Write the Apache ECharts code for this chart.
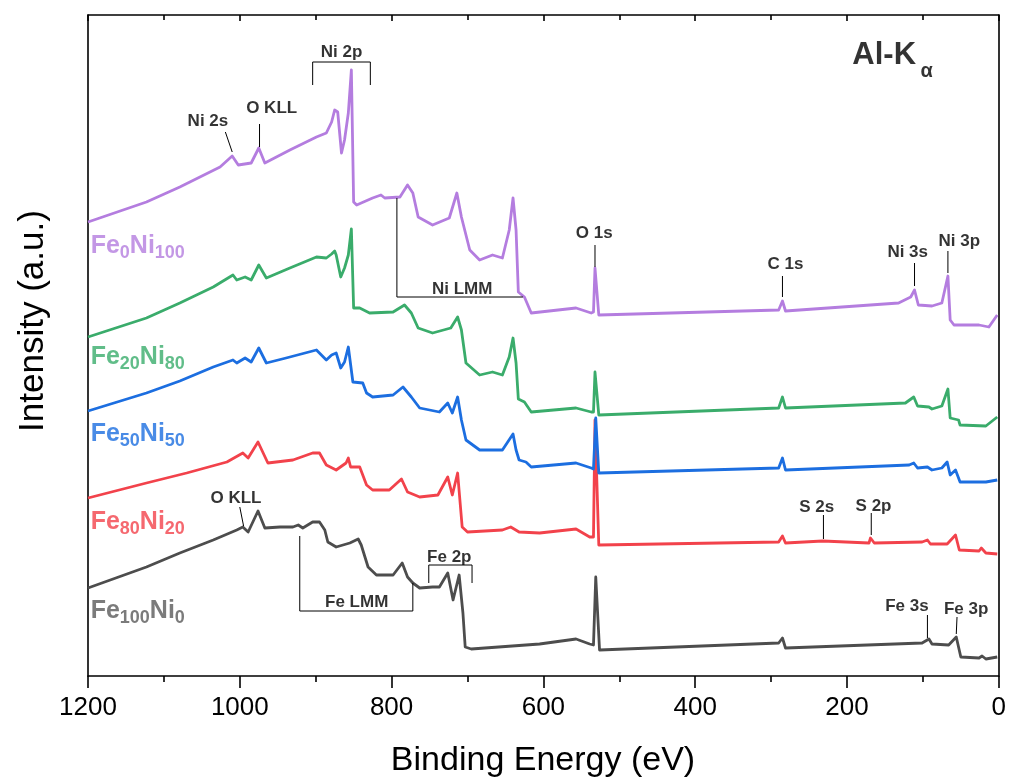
<!DOCTYPE html>
<html>
<head>
<meta charset="utf-8">
<script src="https://cdn.jsdelivr.net/npm/echarts@6/dist/echarts.min.js"></script>
<style>
html,body{margin:0;padding:0;background:#fff;}
#chart{width:1009px;height:783px;}
</style>
</head>
<body>
<div id="chart"></div>
<script>
// ---- DATA: [binding energy (eV), intensity (a.u., offset)] ----
const fe0ni100 = [
[1200,454],[1123,474],[1079,489],[1026,509],[1010,520],[1002,511],[985,513],[975,528],[967,513],[934,526],
[899,539],[886,543],[879,554],[875,566],[871,564],[866,523],[862,536],[857,563],[853,606],[850,474],
[846,471],[825,478],[814,481],[809,478],[789,479],[779,491],[772,483],[765,459],[746,451],[724,458],
[714,483],[708,459],[697,426],[684,416],[667,421],[654,418],[645,446],[640,478],[636,446],[633,384],
[625,379],[616,363],[557,368],[537,363],[534,364],[532,408],[527,361],[290,366],[285,375],[281,365],
[132,373],[116,379],[111,386],[106,371],[88,370],[75,373],[67,400],[64,356],[59,351],[26,351],[13,349],[2,361]
];
const fe20ni80 = [
[1200,339],[1123,358],[1079,373],[1035,389],[1009,401],[1004,396],[993,399],[985,396],[975,411],[965,398],
[934,408],[899,419],[886,418],[879,422],[875,425],[873,421],[867,399],[862,408],[857,421],[853,447],
[850,368],[842,368],[829,363],[798,364],[783,371],[774,363],[765,348],[746,343],[722,348],[713,359],
[708,346],[702,313],[684,301],[667,304],[654,301],[645,319],[640,338],[636,313],[633,277],[625,274],
[616,264],[557,268],[537,264],[534,264],[532,304],[527,261],[290,268],[285,279],[281,268],[123,273],
[112,279],[107,270],[92,269],[88,267],[75,270],[67,287],[64,258],[53,256],[51,251],[17,250],[2,259]
];
const fe50ni50 = [
[1200,265],[1123,283],[1079,295],[1035,309],[1009,316],[1004,313],[993,318],[985,314],[975,328],[965,313],
[939,318],[899,326],[886,316],[879,321],[873,323],[867,308],[862,314],[857,329],[851,294],[838,293],
[833,283],[825,279],[798,281],[785,289],[774,279],[763,268],[737,264],[726,273],[720,263],[713,279],
[708,256],[702,236],[684,226],[654,226],[640,242],[636,226],[632,216],[623,214],[616,209],[557,213],
[537,208],[534,207],[531,258],[527,203],[290,208],[285,218],[281,206],[118,211],[112,213],[107,208],
[94,209],[88,206],[75,208],[68,214],[64,201],[57,206],[51,194],[17,194],[2,196]
];
const fe80ni20 = [
[1200,178],[1123,193],[1070,203],[1017,214],[996,223],[989,218],[976,234],[963,213],[930,216],[904,223],
[895,223],[886,211],[873,206],[860,213],[857,218],[854,209],[842,209],[833,191],[825,186],[803,186],
[787,197],[779,184],[763,179],[739,181],[726,199],[720,181],[713,203],[707,149],[700,144],[654,146],
[643,149],[632,144],[605,143],[557,147],[539,139],[534,139],[532,256],[527,131],[290,134],[285,140],
[281,133],[232,135],[171,133],[169,138],[164,133],[101,134],[94,136],[90,132],[68,132],[57,141],
[52,126],[26,125],[23,128],[17,123],[2,122]
];
const fe100ni0 = [
[1200,88],[1123,109],[1079,123],[1035,136],[1004,146],[996,149],[989,144],[976,165],[967,148],[947,149],
[930,149],[923,151],[917,148],[904,154],[895,154],[888,146],[884,134],[873,129],[855,133],[844,137],
[840,131],[831,109],[820,101],[798,101],[786,113],[779,99],[772,93],[763,88],[746,89],[737,89],
[726,103],[719,76],[711,101],[706,63],[703,29],[695,27],[605,32],[557,37],[539,32],[534,31],
[531,99],[526,26],[290,33],[285,38],[281,28],[101,33],[92,37],[88,32],[66,31],[56,39],
[50,19],[26,18],[22,20],[17,17],[2,19]
];
const seriesNames = ['Fe100Ni0','Fe80Ni20','Fe50Ni50','Fe20Ni80','Fe0Ni100'];
const seriesLabelParts = [['100','0'],['80','20'],['50','50'],['20','80'],['0','100']];
const xTicks = [0,200,400,600,800,1000,1200];

// annotation text [label, eV, intensity]
const peakLabels = [
['Ni 2p',866,624],['Ni 2s',1042,555],['O KLL',958,568],['Ni LMM',707,387],
['O 1s',533,443],['C 1s',281,412],['Ni 3s',120,424],['Ni 3p',52,435],
['O KLL',1005,178],['Fe LMM',846,74],['Fe 2p',724,119],['S 2s',240,169],
['S 2p',165,170],['Fe 3s',121,70],['Fe 3p',43,67]
];
// annotation leader lines / brackets, in [eV, intensity]
const peakLines = [
[[904,591],[904,614],[828,614],[828,591]],
[[1019,544],[1010,524]],
[[974,552],[974,529]],
[[793,478],[793,379],[627,379]],
[[532,431],[532,409]],
[[285,400],[285,379]],
[[111,413],[111,390]],
[[67,425],[67,403]],
[[1000,169],[995,150]],
[[921,140],[921,65],[772,65],[772,93]],
[[751,93],[751,111],[694,111],[694,93]],
[[231,161],[231,137]],
[[168,163],[168,141]],
[[94,61],[94,38]],
[[55,59],[56,42]]
];
const nameLabelPos = [[1196.5,63],[1196.5,152],[1196.5,240],[1196.5,317],[1196.5,428]];

// ---- STYLE ----
const FONT = 'Liberation Sans, Arial, Helvetica, sans-serif';
const colors = ['#4d4d4d','#f2424b','#1c6ee0','#3aac6b','#b47ddf'];
const nameColors = ['#5a5a5a','#f2424b','#1c6ee0','#3aac6b','#b47ddf'];
const allData = [fe100ni0, fe80ni20, fe50ni50, fe20ni80, fe0ni100];

const series = [];
allData.forEach((d, i) => {
  series.push({
    type: 'line', name: seriesNames[i], data: d, showSymbol: false, symbol: 'none',
    smooth: false, silent: true, z: 3 + i,
    lineStyle: { color: colors[i], width: 2.8, join: 'round' }
  });
});
peakLines.forEach((p) => {
  series.push({
    type: 'line', data: p, showSymbol: false, symbol: 'none', silent: true, z: 10,
    lineStyle: { color: '#000', width: 1 }
  });
});
series.push({
  type: 'scatter', symbolSize: 0, silent: true, z: 12,
  data: peakLabels.map(l => ({ name: l[0], value: [l[1], l[2]] })),
  label: {
    show: true, position: 'inside', formatter: '{b}', color: '#000',
    fontFamily: FONT, fontWeight: 'bold', fontSize: 17, align: 'center', verticalAlign: 'middle'
  }
});
series.push({
  type: 'scatter', symbolSize: 0, silent: true, z: 12,
  data: nameLabelPos.map((p, i) => ({
    name: seriesNames[i], value: p,
    label: {
      formatter: '{m|Fe}{s|' + seriesLabelParts[i][0] + '}{m|Ni}{s|' + seriesLabelParts[i][1] + '}',
      rich: {
        m: { fontSize: 25, fontWeight: 'bold', fontFamily: FONT, color: nameColors[i], verticalAlign: 'top' },
        s: { fontSize: 18, fontWeight: 'bold', fontFamily: FONT, color: nameColors[i], verticalAlign: 'top', padding: [11, 0, 0, 0] }
      }
    }
  })),
  label: { show: true, position: 'inside', align: 'left', verticalAlign: 'middle' }
});
// Al-K alpha
series.push({
  type: 'scatter', symbolSize: 0, silent: true, z: 12,
  data: [
    { name: 'Al-K', value: [151, 621], label: { fontSize: 31 } },
    { name: 'α', value: [95, 605], label: { fontSize: 20 } }
  ],
  label: { show: true, position: 'inside', formatter: '{b}', color: '#000', fontFamily: FONT, fontWeight: 'bold', align: 'center', verticalAlign: 'middle' }
});

const chart = echarts.init(document.getElementById('chart'), null, { renderer: 'canvas' });
chart.setOption({
  backgroundColor: '#fff',
  animation: false,
  grid: { left: 88, right: 9, top: 15, bottom: 107, containLabel: false },
  xAxis: [
    {
      type: 'value', min: 0, max: 1200, interval: 200, inverse: true, position: 'bottom',
      axisLine: { show: true, onZero: false, lineStyle: { color: '#000', width: 1.6 } },
      axisTick: { show: true, inside: false, length: 12, lineStyle: { color: '#000', width: 1.6 } },
      minorTick: { show: true, splitNumber: 2, length: 6, lineStyle: { color: '#000', width: 1.6 } },
      axisLabel: { show: true, color: '#000', fontSize: 26, fontFamily: FONT, margin: 19,
        formatter: v => xTicks.includes(v) ? String(v) : '' },
      splitLine: { show: false }
    },
    {
      type: 'value', min: 0, max: 1200, interval: 200, inverse: true, position: 'top',
      axisLine: { show: true, onZero: false, lineStyle: { color: '#000', width: 1.6 } },
      axisTick: { show: true, inside: true, length: 6, lineStyle: { color: '#000', width: 1.6 } },
      minorTick: { show: true, splitNumber: 2, length: 5, lineStyle: { color: '#000', width: 1.6 } },
      axisLabel: { show: false }, splitLine: { show: false }
    }
  ],
  yAxis: [
    {
      type: 'value', min: 0, max: 661, position: 'left',
      axisLine: { show: true, onZero: false, lineStyle: { color: '#000', width: 1.6 } },
      axisTick: { show: false }, axisLabel: { show: false }, splitLine: { show: false }
    },
    {
      type: 'value', min: 0, max: 661, position: 'right',
      axisLine: { show: true, onZero: false, lineStyle: { color: '#000', width: 1.6 } },
      axisTick: { show: false }, axisLabel: { show: false }, splitLine: { show: false }
    }
  ],
  graphic: [
    { type: 'text', x: 543, y: 761, style: { text: 'Binding Energy (eV)', font: '34px ' + FONT, fill: '#000', textAlign: 'center', textVerticalAlign: 'middle' } },
    { type: 'text', x: 33, y: 321, rotation: Math.PI / 2, style: { text: 'Intensity (a.u.)', font: '35px ' + FONT, fill: '#000', textAlign: 'center', textVerticalAlign: 'middle' } }
  ],
  series: series
});
</script>
</body>
</html>
